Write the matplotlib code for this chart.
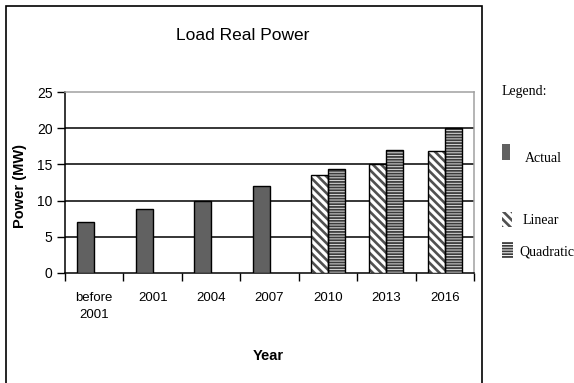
import numpy as np
import matplotlib
matplotlib.use("Agg")
import matplotlib.pyplot as plt
from matplotlib.patches import Rectangle

# ---- data -------------------------------------------------------------
categories = ["before\n2001", "2001", "2004", "2007", "2010", "2013", "2016"]
actual = [7.0, 8.8, 10.0, 12.0]          # measured load, first four periods
linear = [13.6, 15.1, 16.8]              # linear projection, 2010-2016
quadratic = [14.3, 17.0, 20.0]           # quadratic projection, 2010-2016
y_ticks = [0, 5, 10, 15, 20, 25]

W, H = 574, 383
fig = plt.figure(figsize=(W / 100, H / 100), dpi=100)
fig.patch.set_facecolor("white")


def fx(px):
    return px / W


def fy(py):
    return 1 - py / H


# chart frame
fig.patches.append(Rectangle((fx(5.5), fy(400)), fx(482) - fx(5.5), fy(6) - fy(400),
                             transform=fig.transFigure, fill=False,
                             edgecolor="black", linewidth=1.2, zorder=0))

ax = fig.add_axes([fx(65), fy(273), fx(474) - fx(65), fy(92) - fy(273)])

n = len(categories)
x = np.arange(n)
bw = 0.29
n_act = len(actual)
x_proj = x[n_act:]

sans = "Liberation Sans"
serif = "Liberation Serif"

DIAG = "\\" * 4
HORIZ = "-" * 6

# actual bars (left slot)
ax.bar(x[:n_act] - bw / 2, actual, width=bw, color="#616161",
       edgecolor="black", linewidth=1.0, zorder=3)

# linear projection: diagonal hatch
lin = ax.bar(x_proj - bw / 2, linear, width=bw, color="white",
             edgecolor="#505050", linewidth=0, hatch=DIAG, zorder=3)
for p in lin:
    if hasattr(p, "set_hatch_linewidth"):
        p.set_hatch_linewidth(1.9)
ax.bar(x_proj - bw / 2, linear, width=bw, fill=False,
       edgecolor="black", linewidth=1.0, zorder=4)

# quadratic projection: horizontal hatch
quad = ax.bar(x_proj + bw / 2, quadratic, width=bw, color="#dcdcdc",
              edgecolor="#3c3c3c", linewidth=0, hatch=HORIZ, zorder=3)
for p in quad:
    if hasattr(p, "set_hatch_linewidth"):
        p.set_hatch_linewidth(1.3)
ax.bar(x_proj + bw / 2, quadratic, width=bw, fill=False,
       edgecolor="black", linewidth=1.0, zorder=4)

# axes
ax.set_xlim(-0.5, n - 0.5)
ax.set_ylim(0, 25)
ax.set_yticks(y_ticks)
ax.set_yticklabels([str(v) for v in y_ticks], fontfamily=sans, fontsize=10)
for v in y_ticks[1:-1]:
    ax.axhline(v, color="black", linewidth=1.1, zorder=2)

ax.set_xticks(np.arange(n + 1) - 0.5)
ax.set_xticklabels([])
ax.set_xticks(x, minor=True)
ax.set_xticklabels(categories, minor=True, fontfamily=sans, fontsize=9.5,
                   linespacing=1.55, va="top")
ax.tick_params(axis="x", which="minor", length=0, pad=14)
ax.tick_params(axis="x", which="major", length=6, width=1.0, direction="out")
ax.tick_params(axis="y", length=6, width=1.0, direction="out", pad=3)

for side in ("left", "bottom"):
    ax.spines[side].set_color("black")
    ax.spines[side].set_linewidth(1.1)
for side in ("top", "right"):
    ax.spines[side].set_color("#a0a0a0")
    ax.spines[side].set_linewidth(1.1)

ax.set_ylabel("Power (MW)", fontfamily=sans, fontsize=10.5, fontweight="bold")
ax.yaxis.set_label_coords((27 - 65) / (474 - 65), 0.48)

fig.text(fx(243), fy(35), "Load Real Power", ha="center", va="center",
         fontfamily=sans, fontsize=12.5)
fig.text(fx(268), fy(356), "Year", ha="center", va="center",
         fontfamily=sans, fontsize=10.5, fontweight="bold")

# legend
fig.text(fx(502), fy(92), "Legend:", ha="left", va="center",
         fontfamily=serif, fontsize=10)
fig.patches.append(Rectangle((fx(502), fy(160)), fx(510) - fx(502), fy(144) - fy(160),
                             transform=fig.transFigure, facecolor="#616161",
                             edgecolor="none"))
fig.text(fx(525), fy(158), "Actual", ha="left", va="center",
         fontfamily=serif, fontsize=10)

lp = Rectangle((fx(502), fy(227)), fx(512) - fx(502), fy(212) - fy(227),
               transform=fig.transFigure, facecolor="white",
               edgecolor="#505050", linewidth=0, hatch=DIAG)
if hasattr(lp, "set_hatch_linewidth"):
    lp.set_hatch_linewidth(1.9)
fig.patches.append(lp)
fig.text(fx(523), fy(221), "Linear", ha="left", va="center",
         fontfamily=serif, fontsize=10)

qp = Rectangle((fx(502), fy(258)), fx(513) - fx(502), fy(242) - fy(258),
               transform=fig.transFigure, facecolor="white",
               edgecolor="#3c3c3c", linewidth=0, hatch=HORIZ)
if hasattr(qp, "set_hatch_linewidth"):
    qp.set_hatch_linewidth(1.3)
fig.patches.append(qp)
fig.text(fx(519), fy(252), "Quadratic", ha="left", va="center",
         fontfamily=serif, fontsize=10)

fig.savefig("out.png", dpi=100)
